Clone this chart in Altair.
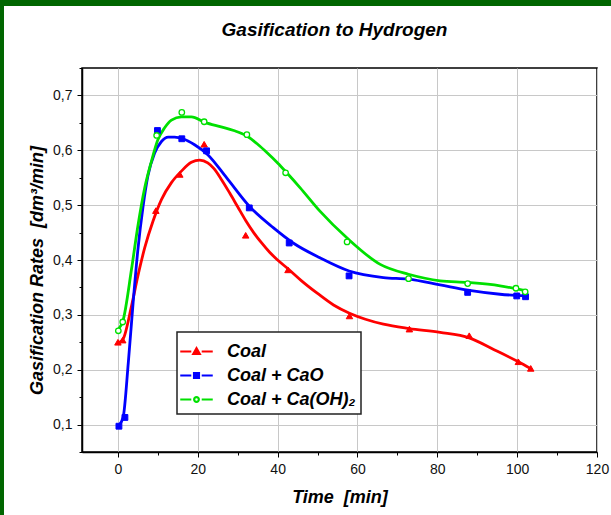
import altair as alt
import pandas as pd

FONT = "Liberation Sans"
NBSP = "\u00a0"

# ---- measured points -------------------------------------------------------
coal_t = [0.0, 1.2, 9.5, 15.5, 21.6, 32.0, 42.6, 58.0, 73.0, 88.0, 100.3, 103.4]
coal_v = [0.250, 0.254, 0.490, 0.556, 0.611, 0.445, 0.382, 0.298, 0.274, 0.262, 0.2145, 0.2024]

cao_t = [0.25, 1.75, 9.9, 16.0, 22.2, 32.9, 42.9, 57.9, 87.6, 99.9, 102.1]
cao_v = [0.097, 0.113, 0.636, 0.621, 0.599, 0.495, 0.431, 0.371, 0.341, 0.3345, 0.333]

caoh_t = [0.1, 1.2, 9.7, 16.0, 21.6, 32.3, 42.0, 57.4, 72.8, 87.6, 99.7, 102.0]
caoh_v = [0.271, 0.287, 0.627, 0.669, 0.652, 0.6285, 0.559, 0.433, 0.366, 0.357, 0.3485, 0.342]

# ---- smoothed fit curves ---------------------------------------------------
coal_fit_t = [0.0, 1.3, 3.4, 5.0, 6.7, 8.8, 10.9, 13.4, 15.9, 18.4, 20.5, 22.5, 24.0,
              26.0, 28.0, 30.0, 32.0, 34.0, 36.0, 38.0, 40.0, 42.6, 46.0, 50.0, 54.0,
              58.0, 62.0, 66.5, 73.0, 80.7, 88.0, 94.1, 100.3, 103.4]
coal_fit_v = [0.248, 0.256, 0.316, 0.371, 0.422, 0.471, 0.510, 0.541, 0.562, 0.578, 0.582,
              0.577, 0.567, 0.546, 0.522, 0.497, 0.472, 0.450, 0.431, 0.414, 0.400, 0.384,
              0.362, 0.339, 0.318, 0.303, 0.292, 0.283, 0.275, 0.268, 0.258, 0.237, 0.2145,
              0.202]

cao_fit_t = [0.2, 1.3, 2.6, 3.8, 5.0, 6.3, 7.5, 9.2, 10.9, 12.6, 14.2, 16.3, 19.2, 22.5,
             27.2, 32.9, 38.9, 43.9, 50.6, 57.9, 66.5, 72.8, 80.7, 87.6, 95.7, 102.0]
cao_fit_v = [0.098, 0.113, 0.213, 0.322, 0.419, 0.498, 0.553, 0.595, 0.616, 0.624, 0.624,
             0.621, 0.610, 0.592, 0.550, 0.498, 0.459, 0.431, 0.404, 0.380, 0.368, 0.365,
             0.3545, 0.345, 0.3376, 0.3345]

caoh_fit_t = [0.1, 1.25, 3.4, 5.0, 6.7, 8.4, 10.0, 11.7, 13.4, 15.9, 18.4, 21.8, 25.6,
              29.0, 32.3, 35.0, 37.3, 40.0, 42.3, 45.6, 50.6, 57.4, 65.7, 72.8, 80.7,
              87.6, 95.7, 102.0]
caoh_fit_v = [0.274, 0.289, 0.383, 0.462, 0.531, 0.580, 0.619, 0.641, 0.655, 0.661, 0.661,
              0.651, 0.643, 0.636, 0.626, 0.611, 0.596, 0.577, 0.559, 0.532, 0.489, 0.440,
              0.392, 0.374, 0.362, 0.359, 0.353, 0.344]

names = ["Coal", "Coal + CaO", "Coal + Ca(OH)\u2082"]
colors = ["#ff0000", "#0000ff", "#00e000"]
marker_shapes = ["triangle-up", "square", "circle"]

# legend glyphs: dash - marker - dash
legend_glyphs = [
    "M-1.25,0L-0.4,0M0.4,0L1.25,0M-0.25,0.19L0,-0.25L0.25,0.19Z",
    "M-1.25,0L-0.4,0M0.4,0L1.25,0M-0.19,-0.19L0.19,-0.19L0.19,0.19L-0.19,0.19Z",
    "M-1.25,0L-0.4,0M0.4,0L1.25,0M-0.18,0A0.18,0.18 0 1,0 0.18,0A0.18,0.18 0 1,0 -0.18,0Z",
]
legend_fills = ["#ff0000", "#0000ff", "#ffffff"]

pts = pd.concat([
    pd.DataFrame({"t": coal_t, "v": coal_v, "series": names[0]}),
    pd.DataFrame({"t": cao_t, "v": cao_v, "series": names[1]}),
    pd.DataFrame({"t": caoh_t, "v": caoh_v, "series": names[2]}),
], ignore_index=True)

fits = pd.concat([
    pd.DataFrame({"t": coal_fit_t, "v": coal_fit_v, "series": names[0]}),
    pd.DataFrame({"t": cao_fit_t, "v": cao_fit_v, "series": names[1]}),
    pd.DataFrame({"t": caoh_fit_t, "v": caoh_fit_v, "series": names[2]}),
], ignore_index=True)

x_ticks = list(range(0, 121, 10))
y_ticks = [0.05, 0.1, 0.15, 0.2, 0.25, 0.3, 0.35, 0.4, 0.45, 0.5, 0.55, 0.6, 0.65, 0.7, 0.75]

x_major = "datum.value % 20 === 0"
y_major = "round(datum.value * 100) % 10 === 0"

common_axis = dict(
    grid=True, gridColor="#c8c8c8", gridWidth=1,
    domainColor="black", domainWidth=1.5,
    tickColor="black", tickWidth=1,
    labelFont=FONT, labelFontSize=14, labelColor="#111111",
    labelOverlap=False, labelFlush=False,
    titleFont=FONT, titleFontSize=18, titleFontWeight="bold",
    titleFontStyle="italic", titleColor="black",
)

X = alt.X(
    "t:Q",
    scale=alt.Scale(domain=[-9, 120], nice=False, zero=False),
    title=f"Time {NBSP}[min]",
    axis=alt.Axis(
        values=x_ticks,
        labelExpr=f"{x_major} ? datum.label : ''",
        tickSize={"condition": {"test": x_major, "value": 5}, "value": 3},
        gridOpacity={"condition": {"test": x_major, "value": 1}, "value": 0},
        labelPadding=5, titlePadding=12,
        **common_axis,
    ),
)
Y = alt.Y(
    "v:Q",
    scale=alt.Scale(domain=[0.05, 0.75], nice=False, zero=False),
    title=f"Gasification Rates {NBSP}[dm\u00b3/min]",
    axis=alt.Axis(
        values=y_ticks,
        labelExpr=f"{y_major} ? replace(format(datum.value, '.1f'), '.', ',') : ''",
        tickSize={"condition": {"test": y_major, "value": 5}, "value": 3},
        gridOpacity={"condition": {"test": y_major, "value": 1}, "value": 0},
        labelPadding=5, titlePadding=6, titleY=202,
        **common_axis,
    ),
)

curves = alt.Chart(fits).mark_line(strokeWidth=2.8, interpolate="monotone").encode(
    x=X, y=Y,
    color=alt.Color("series:N", scale=alt.Scale(domain=names, range=colors), legend=None),
    detail="series:N",
)

marker_layers = []
for name, col, shp in zip(names, colors, marker_shapes):
    filled = shp != "circle"
    m = alt.Chart(pts).transform_filter(alt.datum.series == name).mark_point(
        shape=shp,
        filled=filled,
        fill=col if filled else "white",
        stroke=col,
        strokeWidth=1.0 if filled else 1.3,
        size=42 if shp == "triangle-up" else (34 if shp == "square" else 30),
        opacity=1,
    ).encode(x=X, y=Y)
    marker_layers.append(m)

legend_spec = alt.Legend(
    title=None, orient="none", legendX=95, legendY=264,
    symbolSize=676, symbolStrokeWidth=2.2, symbolOpacity=1,
    labelFont=FONT, labelFontSize=18, labelFontWeight="bold",
    labelFontStyle="italic", labelColor="black", labelLimit=0, labelOffset=16,
    rowPadding=0, padding=5, fillColor="white", strokeColor="#222222",
)

# carrier layer for the legend: its own marks are fully transparent
legend_layer = alt.Chart(pts).mark_point(
    filled=True, size=676, strokeWidth=2.2, opacity=0
).encode(
    x=X, y=Y,
    shape=alt.Shape("series:N", scale=alt.Scale(domain=names, range=legend_glyphs), legend=legend_spec),
    fill=alt.Fill("series:N", scale=alt.Scale(domain=names, range=legend_fills), legend=legend_spec),
    stroke=alt.Stroke("series:N", scale=alt.Scale(domain=names, range=colors), legend=legend_spec),
)

# dark green page frame along the left and top edges
frame_src = alt.Data(values=[{"k": 1}])
frame_left = alt.Chart(frame_src).mark_rect(color="#006600").encode(
    x=alt.value(-82), x2=alt.value(-78), y=alt.value(-68), y2=alt.value(447)
)
frame_top = alt.Chart(frame_src).mark_rect(color="#006600").encode(
    x=alt.value(-82), x2=alt.value(529), y=alt.value(-68), y2=alt.value(-62)
)

chart = alt.layer(legend_layer, curves, *marker_layers, frame_left, frame_top).properties(
    width=515,
    height=384,
    padding={"left": 82, "top": 68, "right": 14, "bottom": 63},
    autosize=alt.AutoSizeParams(type="none"),
    background="white",
    title=alt.TitleParams(
        "Gasification to Hydrogen", font=FONT, fontSize=19, fontWeight="bold",
        fontStyle="italic", color="black", anchor="middle", dx=-5, offset=-40,
    ),
).configure_view(
    stroke="black", strokeWidth=1.5
).configure_legend(
    strokeWidth=1.5
)

chart.save("out.html", embed_options={"renderer": "svg", "actions": False})
